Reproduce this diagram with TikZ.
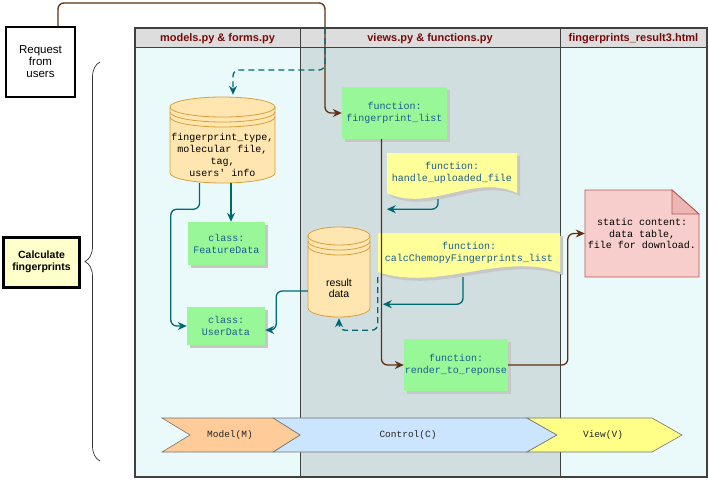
\documentclass[tikz,border=0pt]{standalone}
\usepackage{fontspec}
\setmainfont{Liberation Sans}
\setmonofont{Liberation Mono}
\usetikzlibrary{positioning,calc,shadows,arrows.meta,decorations.pathreplacing}

\definecolor{lanelight}{RGB}{234,250,250}
\definecolor{lanemid}{RGB}{208,222,224}
\definecolor{headgray}{RGB}{221,221,221}
\definecolor{hdred}{RGB}{120,10,10}
\definecolor{fngreen}{RGB}{152,248,152}
\definecolor{fnblue}{RGB}{28,92,140}
\definecolor{flowteal}{RGB}{0,104,114}
\definecolor{flowbrown}{RGB}{96,48,16}
\definecolor{docyellow}{RGB}{255,255,153}
\definecolor{dbfill}{RGB}{255,230,176}
\definecolor{dbborder}{RGB}{215,160,60}
\definecolor{notefill}{RGB}{248,206,204}
\definecolor{noteborder}{RGB}{184,84,80}
\definecolor{modelfill}{RGB}{255,204,153}
\definecolor{ctrlfill}{RGB}{204,229,255}
\definecolor{viewfill}{RGB}{255,255,136}
\definecolor{calcfill}{RGB}{255,255,204}

% cylinder with the two extra rings: left, right, top, bottom, ry
\newcommand{\datastore}[5]{%
  \pgfmathsetmacro{\dsrx}{(#2-#1)/2}
  \draw[dbshape] (#1,#3+#5) -- (#1,#4-#5)
    arc[start angle=180, end angle=360, x radius=\dsrx pt, y radius=#5pt]
    -- (#2,#3+#5)
    arc[start angle=0, end angle=180, x radius=\dsrx pt, y radius=#5pt] -- cycle;
  \foreach \dsoff in {0,5,10}
    \draw[dbshape, fill=none] (#1,#3+#5+\dsoff)
      arc[start angle=180, end angle=360, x radius=\dsrx pt, y radius=#5pt];
}
% document shape with wavy bottom: left, top, right, bottom
\newcommand{\docshape}[4]{%
  \fill[black!22, shift={(3,3)}] (#1,#2) -- (#3,#2) -- (#3,#4)
    .. controls ({#3-(#3-#1)*0.33},#4-20) and ({#3-(#3-#1)*0.67},#4+20) .. (#1,#4) -- cycle;
  \fill[docyellow] (#1,#2) -- (#3,#2) -- (#3,#4)
    .. controls ({#3-(#3-#1)*0.33},#4-20) and ({#3-(#3-#1)*0.67},#4+20) .. (#1,#4) -- cycle;
}

\begin{document}
\begin{tikzpicture}[x=1pt, y=-1pt,
  headtext/.style={font=\bfseries\fontsize{11}{12}\selectfont, text=hdred},
  fnbox/.style={fill=fngreen, align=center, inner sep=0pt, text=fnblue,
    font=\ttfamily\fontsize{10}{12}\selectfont,
    drop shadow={shadow xshift=3pt, shadow yshift=-3pt, fill=black!22, opacity=1}},
  doctext/.style={align=center, inner sep=0pt, text=fnblue, font=\ttfamily\fontsize{10}{12}\selectfont},
  dbshape/.style={draw=dbborder, fill=dbfill, line width=0.8pt},
  chevron/.style={draw=black!55, line width=0.6pt},
  flow/.style={draw=flowteal, line width=1.3pt, rounded corners=6pt, -{Stealth[length=9pt,width=8pt]}},
  dashflow/.style={flow, dash pattern=on 6pt off 4pt},
  reqflow/.style={draw=flowbrown, line width=1.3pt, rounded corners=6pt, -{Stealth[length=9pt,width=8pt]}}
]
\useasboundingbox (0,0) rectangle (709,479);

% swimlanes
\fill[lanelight] (135,28) rectangle (300,477);
\fill[lanemid] (300,28) rectangle (560,477);
\fill[lanelight] (560,28) rectangle (707,477);
\fill[headgray] (135,28) rectangle (707,47);
\draw[black!75, line width=0.8pt] (135,47) -- (707,47) (300,28) -- (300,477) (560,28) -- (560,477);
\draw[black!75, line width=1.2pt] (135,28) rectangle (707,477);
\node[headtext] (hmodels) at (217.5,39) {models.py \& forms.py};
\node[headtext] (hviews) at (430,39) {views.py \& functions.py};
\node[headtext] (hhtml) at (633.5,39) {fingerprints\_result3.html};

% left side
\node[draw, line width=1.5pt, fill=white, minimum width=69, minimum height=70, align=center,
  font=\fontsize{11.5}{12}\selectfont] (req) at (40.5,62) {Request\\from\\users};
\node[draw, line width=3pt, fill=calcfill, minimum width=76, minimum height=50, align=center,
  font=\bfseries\fontsize{10.5}{11.5}\selectfont] (calc) at (41.5,262) {Calculate\\fingerprints};
\draw[black!80, line width=0.7pt, decorate, decoration={brace, amplitude=15pt}] (100,461) -- (100,62);

% shapes
\datastore{170}{275}{97}{183}{10}
\datastore{308}{370}{227}{317}{9}
\docshape{387}{153}{517}{193}
\docshape{378}{233}{560}{272}
\draw[noteborder, fill=notefill, line width=0.8pt] (585,190) -- (672,190) -- (699,214) -- (699,277) -- (585,277) -- cycle;
\draw[noteborder, fill=notefill!80!noteborder, line width=0.8pt] (672,190) -- (672,214) -- (699,214) -- cycle;
\draw[chevron, fill=ctrlfill] (273,418) -- (527,418) -- (557,435) -- (527,452) -- (273,452) -- (300,435) -- cycle;
\draw[chevron, fill=modelfill] (162,418) -- (273,418) -- (300,435) -- (273,452) -- (162,452) -- (190,435) -- cycle;
\draw[chevron, fill=viewfill] (527,418) -- (652,418) -- (682,435) -- (652,452) -- (527,452) -- (557,435) -- cycle;

% nodes
\node[minimum width=105, minimum height=86, inner sep=0pt] (db1) at (222.5,140) {};
\node[align=center, inner sep=0pt, font=\ttfamily\fontsize{10}{12}\selectfont] (db1txt) at (222.5,155)
  {fingerprint\_type,\\molecular file,\\tag,\\users' info};
\node[minimum width=62, minimum height=90, inner sep=0pt] (db2) at (339,272) {};
\node[align=center, inner sep=0pt, font=\fontsize{10.5}{11}\selectfont] (db2txt) at (339,288) {result\\data};
\node[fnbox, minimum width=105, minimum height=52] (fplist) at (394.5,113) {function:\\fingerprint\_list};
\node[fnbox, minimum width=77, minimum height=43] (featdata) at (226.5,243.5) {class:\\FeatureData};
\node[fnbox, minimum width=78, minimum height=38] (userdata) at (226,326) {class:\\UserData};
\node[fnbox, minimum width=104, minimum height=52] (render) at (456,365) {function:\\render\_to\_reponse};
\node[doctext, minimum width=130, minimum height=40] (hdl) at (452,173) {function:\\handle\_uploaded\_file};
\node[doctext, minimum width=182, minimum height=39] (calcfp) at (469,252.5) {function:\\calcChemopyFingerprints\_list};
\node[align=center, inner sep=0pt, minimum width=114, minimum height=87,
  font=\ttfamily\fontsize{10}{11.5}\selectfont] (note) at (642,233.5) {static content:\\data table,\\file for download.};
\node[font=\ttfamily\fontsize{9.5}{11}\selectfont, text=black!85] (model) at (230,435) {Model(M)};
\node[font=\ttfamily\fontsize{9.5}{11}\selectfont, text=black!85] (control) at (408,435) {Control(C)};
\node[font=\ttfamily\fontsize{9.5}{11}\selectfont, text=black!85] (view) at (603,435) {View(V)};

% connectors
\coordinate (ctop) at (325,3);
\coordinate (dstart) at (325,28);
\draw[reqflow] ([xshift=17.5]req.north) |- (ctop) |- (fplist.west);
\draw[dashflow, shorten >=2pt] (dstart) -- ++(0,42) -| ([xshift=10.5]db1.north);
\draw[flow] ([xshift=8.5]db1.south) -- ([xshift=8.5]db1.south |- featdata.north);
\draw[flow] ([xshift=-23]db1.south) -- ++(0,26) -| ([xshift=-16]userdata.west) -- (userdata.west);
\draw[flow] ([yshift=-19]db2.west) -| ([xshift=11,yshift=-4]userdata.east) -- ([yshift=-4]userdata.east);
\draw[reqflow] ([xshift=-13]fplist.south) |- (render.west);
\draw[flow] ([xshift=-14,yshift=-6]hdl.south) |- ([yshift=-16]hdl.south west);
\draw[flow] ([xshift=-6,yshift=-5]calcfp.south) |- ([xshift=5,yshift=-32]calcfp.south west);
\draw[dashflow, shorten >=1pt] ([yshift=-5]calcfp.south west) |- ([yshift=-13]db2.south) -- (db2.south);
\draw[reqflow] (render.east) -| ([xshift=-17]note.west) -- (note.west);
\end{tikzpicture}
\end{document}
